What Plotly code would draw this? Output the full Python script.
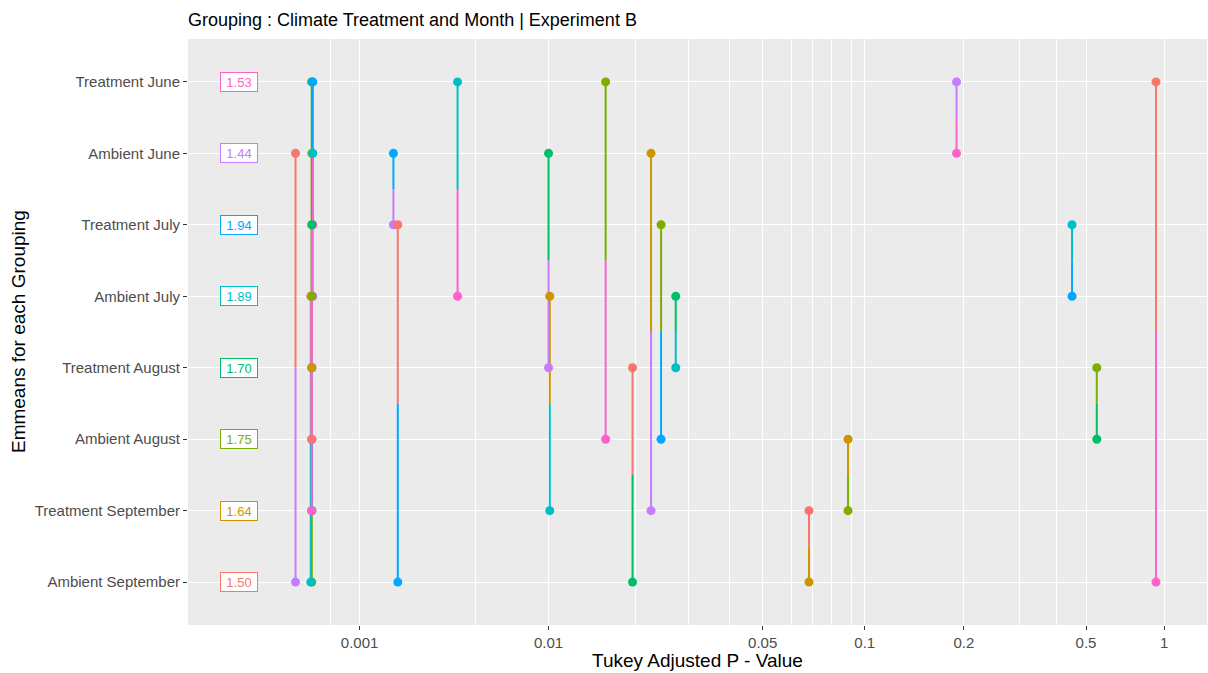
import numpy as np
import plotly.graph_objects as go

# ---- data ----
groups = ["Ambient September", "Treatment September", "Ambient August", "Treatment August",
          "Ambient July", "Treatment July", "Ambient June", "Treatment June"]
emmean_labels = ["1.50", "1.64", "1.75", "1.70", "1.89", "1.94", "1.44", "1.53"]
group_colors = ["#F8766D", "#CD9600", "#7CAE00", "#00BE67",
                "#00BFC4", "#00A9FF", "#C77CFF", "#FF61CC"]

pair_a = ["Treatment June", "Treatment June", "Treatment July", "Treatment August",
          "Ambient August", "Treatment September", "Ambient June", "Ambient July",
          "Treatment June", "Ambient June", "Treatment July", "Ambient July",
          "Treatment August", "Treatment June", "Ambient June", "Treatment July",
          "Ambient June",
          "Ambient June", "Ambient July", "Ambient June", "Ambient July", "Ambient August",
          "Treatment June", "Treatment July", "Treatment June", "Treatment June",
          "Treatment July", "Treatment August"]
pair_b = ["Ambient September", "Ambient June", "Ambient July", "Ambient August",
          "Treatment September", "Ambient September", "Treatment August", "Treatment September",
          "Ambient August", "Treatment September", "Ambient August", "Treatment August",
          "Ambient September", "Ambient July", "Treatment July", "Ambient September",
          "Ambient September",
          "Ambient August", "Ambient September", "Ambient July", "Ambient August", "Ambient September",
          "Treatment August", "Treatment September", "Treatment September", "Treatment July",
          "Treatment August", "Treatment September"]
p_values = [0.93, 0.19, 0.45, 0.55,
            0.088, 0.068, 0.0100, 0.0101,
            0.0158, 0.0226, 0.0244, 0.0273,
            0.0196, 0.0039, 0.0016, 0.0017,
            0.000054,
            0.00018, 0.00017, 0.00019, 0.00018, 0.00018,
            0.00018, 0.00018, 0.00018, 0.00019,
            0.00018, 0.00018]

major_breaks = [0.001, 0.01, 0.05, 0.1, 0.2, 0.5, 1]
major_labels = ["0.001", "0.01", "0.05", "0.1", "0.2", "0.5", "1"]
minor_breaks = [0.0005, 0.005, 0.02, 0.03, 0.04, 0.06, 0.07, 0.08, 0.09, 0.3, 0.4]

# ---- P-value scale (log-like, compressed at both ends) ----
scale_p = [1e-5, 1e-4, 5e-4, 1e-3, 5e-3, 0.01, 0.02, 0.03, 0.04, 0.05, 0.06, 0.07,
           0.08, 0.09, 0.1, 0.2, 0.3, 0.4, 0.5, 1.0]
scale_t = [-2.95, -2.883, -2.783, -2.687, -2.30, -2.056, -1.767, -1.59, -1.45, -1.341,
           -1.243, -1.173, -1.11, -1.043, -1.0, -0.669, -0.483, -0.36, -0.261, 0.0]


def ptrans(p):
    return np.interp(np.log10(np.asarray(p, dtype=float)), np.log10(scale_p), scale_t)


row = {g: i + 1 for i, g in enumerate(groups)}
col = {g: c for g, c in zip(groups, group_colors)}

# canonical pair order: (lower level, higher level)
pairs = []
for a, b, p in zip(pair_a, pair_b, p_values):
    lo, hi = sorted([a, b], key=lambda g: row[g])
    pairs.append((lo, hi, p))
pairs.sort(key=lambda t: (row[t[0]], row[t[1]]))

fig = go.Figure()

# segments: half near each group coloured by the partner group's colour
seg = {c: ([], []) for c in group_colors}
for a, b, p in pairs:
    x = float(ptrans(p))
    ya, yb = row[a], row[b]
    ym = (ya + yb) / 2
    xs, ys = seg[col[b]]
    xs += [x, x, None]
    ys += [ya, ym, None]
    xs, ys = seg[col[a]]
    xs += [x, x, None]
    ys += [ym, yb, None]
for c in group_colors:
    xs, ys = seg[c]
    fig.add_trace(go.Scatter(x=xs, y=ys, mode="lines", line=dict(color=c, width=2),
                             showlegend=False, hoverinfo="skip"))

# end points: first every lower-level end, then every higher-level end
px, py, pc = [], [], []
for a, b, p in pairs:
    px.append(float(ptrans(p)))
    py.append(row[a])
    pc.append(col[b])
for a, b, p in pairs:
    px.append(float(ptrans(p)))
    py.append(row[b])
    pc.append(col[a])
fig.add_trace(go.Scatter(x=px, y=py, mode="markers",
                         marker=dict(color=pc, size=9, line=dict(width=0)),
                         showlegend=False, hoverinfo="skip"))

font_family = "Liberation Sans, Arial, sans-serif"

annotations = []
for g, lab, c in zip(groups, emmean_labels, group_colors):
    annotations.append(dict(x=0.05, xref="paper", y=row[g], yref="y", text=lab,
                            showarrow=False, font=dict(size=13, color=c, family=font_family),
                            bgcolor="white", bordercolor=c, borderwidth=1, borderpad=1,
                            width=34, height=16, xanchor="center", yanchor="middle"))
annotations.append(dict(x=0.5, xref="paper", y=-0.0614, yref="paper",
                        text="Tukey Adjusted P - Value", showarrow=False,
                        font=dict(size=19, color="black", family=font_family),
                        xanchor="center", yanchor="middle"))
annotations.append(dict(x=-0.1668, xref="paper", y=0.5, yref="paper",
                        text="Emmeans for each Grouping", showarrow=False, textangle=-90,
                        font=dict(size=19, color="black", family=font_family),
                        xanchor="center", yanchor="middle"))

fig.update_layout(
    width=1208, height=673,
    margin=dict(l=188, r=1, t=39, b=48),
    paper_bgcolor="white", plot_bgcolor="#EBEBEB",
    font=dict(family=font_family),
    title=dict(text="Grouping : Climate Treatment and Month | Experiment B",
               x=188 / 1208, xanchor="left", xref="container",
               y=1 - 20 / 673, yanchor="middle",
               font=dict(size=18, color="black", family=font_family)),
    annotations=annotations,
    xaxis=dict(range=[-3.26, 0.143], tickmode="array",
               tickvals=list(ptrans(major_breaks)), ticktext=major_labels,
               showgrid=True, gridcolor="white", gridwidth=1.4,
               ticks="outside", ticklen=4, tickwidth=1, tickcolor="#333333",
               tickfont=dict(size=15, color="#4D4D4D"),
               zeroline=False, showline=False,
               minor=dict(tickmode="array", tickvals=list(ptrans(minor_breaks)),
                          showgrid=True, gridcolor="white", gridwidth=0.6, ticks="")),
    yaxis=dict(range=[0.4, 8.6], tickmode="array", tickvals=list(range(1, 9)),
               ticktext=groups, showgrid=True, gridcolor="white", gridwidth=1.4,
               ticks="outside", ticklen=4, tickwidth=1, tickcolor="#333333",
               tickfont=dict(size=15, color="#4D4D4D"),
               zeroline=False, showline=False),
)

fig.write_html("out.html")
